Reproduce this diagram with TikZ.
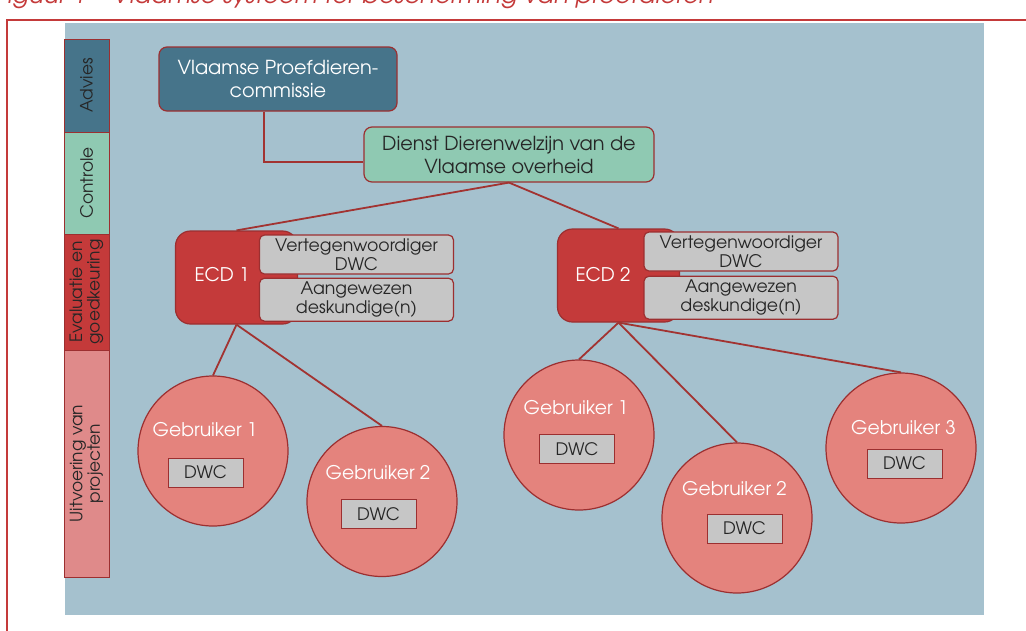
\documentclass[tikz,border=0pt]{standalone}
\usepackage{fontspec}
\setmainfont{TeX Gyre Adventor}
\usepackage{xcolor}
\usetikzlibrary{shapes,arrows,positioning,calc}
\definecolor{achtergrond}{HTML}{A5C1CE}
\definecolor{advies}{HTML}{46748A}
\definecolor{controle}{HTML}{8FC9B2}
\definecolor{ecdrood}{HTML}{C43A3A}
\definecolor{roze}{HTML}{E4837D}
\definecolor{uitvoering}{HTML}{DF8A8A}
\definecolor{grijs}{HTML}{C6C6C6}
\definecolor{rand}{HTML}{9C2F30}
\definecolor{lijnrood}{HTML}{A23331}
\definecolor{kader}{HTML}{C43A3A}
\definecolor{tekst}{HTML}{262626}

\begin{document}
\begin{tikzpicture}[x=1pt, y=-1pt, thick,
    fase/.style={draw=rand, line width=1pt, rotate=90, minimum height=45pt, inner sep=0pt, align=center, text=tekst, font=\fontsize{17}{17.5}\selectfont},
    orgaan/.style={draw=rand, line width=1.2pt, rounded corners=8pt, align=center, inner sep=0pt, font=\fontsize{19.3}{23}\selectfont},
    ecd/.style={draw=rand, line width=1.2pt, fill=ecdrood, rounded corners=15pt, minimum width=122pt, minimum height=93pt},
    lid/.style={draw=rand, line width=1.2pt, fill=grijs, rounded corners=5pt, minimum width=194pt, align=center, inner sep=0pt, text=tekst, font=\fontsize{17.3}{19}\selectfont},
    gebruiker/.style={draw=rand, line width=1.2pt, fill=roze, circle, minimum size=150pt, inner sep=0pt},
    naam/.style={text=white, font=\fontsize{18.8}{20}\selectfont},
    dwc/.style={draw=rand, line width=1pt, fill=grijs, minimum width=75pt, minimum height=29pt, inner sep=0pt, text=tekst, font=\fontsize{17.2}{18}\selectfont},
    lijn/.style={draw=lijnrood, line width=1.8pt}]

    \useasboundingbox (0,0) rectangle (1026,630);
    \fill [achtergrond] (65,23) rectangle (984,615);
    \draw [kader, line width=2pt] (7,660) -- (7,20) -- (1060,20);
    \node [anchor=base east, inner sep=0pt, text=kader, font=\fontsize{24.5}{28}\selectfont\itshape] (titel) at (714,3) {Figuur 1 – Vlaamse systeem ter bescherming van proefdieren};

    \node [fase, fill=advies, minimum width=93pt] (adv) at (86.5,85.5) {Advies};
    \node [fase, fill=controle, minimum width=102pt] (con) at (86.5,183) {Controle};
    \node [fase, fill=ecdrood, minimum width=116pt] (eva) at (86.5,292) {Evaluatie en\\goedkeuring};
    \node [fase, fill=uitvoering, minimum width=227pt] (uit) at (86.5,463.5) {Uitvoering van\\projecten};

    \node [orgaan, fill=advies, text=white, minimum width=238pt, minimum height=64pt] (vpc) at (278,79) {Vlaamse Proefdieren-\\commissie};
    \node [orgaan, fill=controle, text=tekst, minimum width=290pt, minimum height=55pt] (dienst) at (509,154.5) {Dienst Dierenwelzijn van de\\Vlaamse overheid};

    \node [ecd] (ecd1) at (236.5,277.5) {};
    \node [naam] (ecd1t) at (222,275) {ECD 1};
    \node [lid, minimum height=39pt] (vert1) at (356.5,254.5) {Vertegenwoordiger\\DWC};
    \node [lid, minimum height=43pt, below=3pt of vert1] (aang1) {Aangewezen\\deskundige(n)};

    \node [ecd] (ecd2) at (618.5,275.5) {};
    \node [naam] (ecd2t) at (603,275) {ECD 2};
    \node [lid, minimum height=39pt] (vert2) at (741,251.5) {Vertegenwoordiger\\DWC};
    \node [lid, minimum height=43pt, below=4pt of vert2] (aang2) {Aangewezen\\deskundige(n)};

    \node [gebruiker] (g11) at (213,451) {};
    \node [naam] (g11t) at (205,430) {Gebruiker 1};
    \node [dwc] (g11d) at (205.5,472.5) {DWC};
    \node [gebruiker] (g12) at (382,501.5) {};
    \node [naam] (g12t) at (378,473) {Gebruiker 2};
    \node [dwc] (g12d) at (378.5,514) {DWC};

    \node [gebruiker] (g21) at (579,435) {};
    \node [naam] (g21t) at (576,408) {Gebruiker 1};
    \node [dwc] (g21d) at (577,449) {DWC};
    \node [gebruiker] (g22) at (737,518) {};
    \node [naam] (g22t) at (734.5,489) {Gebruiker 2};
    \node [dwc] (g22d) at (744.5,528.5) {DWC};
    \node [gebruiker] (g23) at (901,448) {};
    \node [naam] (g23t) at (903.5,428) {Gebruiker 3};
    \node [dwc] (g23d) at (904.5,463.5) {DWC};

    \draw [lijn] ([xshift=-14pt]vpc.south) |- ([yshift=-7.5pt]dienst.west);
    \draw [lijn] (dienst.south) -- (ecd1.north);
    \draw [lijn] (dienst.south) -- (ecd2.north);
    \draw [lijn] (ecd1.south) -- (g11.north);
    \draw [lijn] (ecd1.south) -- (g12.north);
    \draw [lijn] (ecd2.south) -- (g21.north);
    \draw [lijn] (ecd2.south) -- (g22.north);
    \draw [lijn] (ecd2.south) -- (g23.north);
\end{tikzpicture}
\end{document}
